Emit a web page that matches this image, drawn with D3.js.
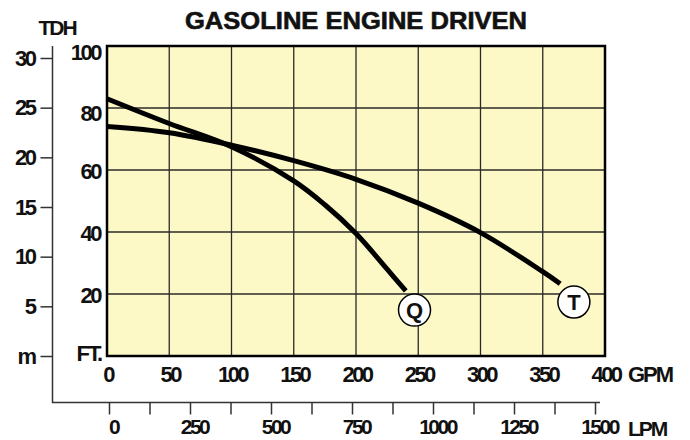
<!DOCTYPE html>
<html>
<head>
<meta charset="utf-8">
<script src="https://cdn.jsdelivr.net/npm/d3@7"></script>
<style>
  body { margin: 0; background: #fff; }
  text { font-family: "Liberation Sans", Arial, sans-serif; font-weight: bold; fill: #111; }
</style>
</head>
<body>
<div id="chart"></div>
<script>
var gpmTicks = [0, 50, 100, 150, 200, 250, 300, 350, 400];
var ftTicks = [20, 40, 60, 80, 100];
var mTicks = [0, 5, 10, 15, 20, 25, 30];
var lpmTicks = [0, 125, 250, 375, 500, 625, 750, 875, 1000, 1125, 1250, 1375, 1500];

// curves: [gpm, ft]
var curveQ = [[0, 83], [50, 75], [100, 67.5], [150, 56.5], [175, 48.8], [200, 39.5], [225, 28], [240, 21]];
var curveT = [[0, 74], [50, 72], [100, 68], [150, 63], [200, 57], [250, 49.3], [300, 39.8], [350, 27.2], [364, 23.3]];
var markers = [{name: "Q", gpm: 247, ft: 14.8}, {name: "T", gpm: 375, ft: 17.4}];

var width = 690,
    height = 440;

var x = d3.scaleLinear().domain([0, 400]).range([107, 605]);
var y = d3.scaleLinear().domain([0, 100]).range([356, 46]);
var yM = d3.scaleLinear().domain([0, 30]).range([356, 58]);
var xL = d3.scaleLinear().domain([0, 1500]).range([109, 595]);

var svg = d3.select("#chart").append("svg")
    .attr("width", width)
    .attr("height", height);

// title
svg.append("text")
    .attr("x", 185).attr("y", 28.5)
    .attr("textLength", 342).attr("lengthAdjust", "spacingAndGlyphs")
    .style("font-size", "23px")
    .style("stroke", "#111").style("stroke-width", 0.6)
    .text("GASOLINE ENGINE DRIVEN");

// plot background
svg.append("rect")
    .attr("x", x(0)).attr("y", y(100))
    .attr("width", x(400) - x(0)).attr("height", y(0) - y(100))
    .attr("fill", "#fdf9c7");

// grid
svg.append("g").selectAll("line")
    .data(gpmTicks.slice(1, -1))
    .enter().append("line")
    .attr("x1", d => x(d)).attr("x2", d => x(d))
    .attr("y1", y(100)).attr("y2", y(0))
    .attr("stroke", "#2a2a2a").attr("stroke-width", 1.3);

svg.append("g").selectAll("line")
    .data(ftTicks.slice(0, -1))
    .enter().append("line")
    .attr("x1", x(0)).attr("x2", x(400))
    .attr("y1", d => y(d)).attr("y2", d => y(d))
    .attr("stroke", "#2a2a2a").attr("stroke-width", 1.3);

svg.append("rect")
    .attr("x", x(0)).attr("y", y(100))
    .attr("width", x(400) - x(0)).attr("height", y(0) - y(100))
    .attr("fill", "none").attr("stroke", "#000").attr("stroke-width", 2.5);

// feet labels
svg.append("g").selectAll("text")
    .data(ftTicks)
    .enter().append("text")
    .attr("x", 100)
    .attr("y", d => y(d) + (d == 100 ? 6 : d == 80 ? 5 : 1))
    .attr("dy", "0.36em")
    .attr("text-anchor", "end")
    .style("font-size", "22px").style("letter-spacing", "-2.5px")
    .text(d => d);

svg.append("text")
    .attr("x", 101).attr("y", 353).attr("dy", "0.36em")
    .attr("text-anchor", "end")
    .style("font-size", "22px").style("letter-spacing", "-2px")
    .text("FT.");

// gpm labels
svg.append("g").selectAll("text")
    .data(gpmTicks)
    .enter().append("text")
    .attr("x", d => x(d) + 1).attr("y", 374).attr("dy", "0.36em")
    .attr("text-anchor", "middle")
    .style("font-size", "22px").style("letter-spacing", "-2.5px")
    .text(d => d);

svg.append("text")
    .attr("x", 628).attr("y", 374).attr("dy", "0.36em")
    .style("font-size", "22px").style("letter-spacing", "-2px")
    .text("GPM");

// metric axis (left) and LPM axis (bottom)
svg.append("path")
    .attr("d", "M52.5,46V402.5H600")
    .attr("fill", "none").attr("stroke", "#333").attr("stroke-width", 1.5);

var axisM = svg.append("g")
    .attr("transform", "translate(52.5,0)")
    .call(d3.axisLeft(yM).tickValues(mTicks).tickSize(12).tickPadding(6)
        .tickFormat(d => d == 0 ? "m" : d));

var axisL = svg.append("g")
    .attr("transform", "translate(0,402.5)")
    .call(d3.axisBottom(xL).tickValues(lpmTicks).tickSize(12).tickPadding(5)
        .tickFormat(d => d % 250 == 0 ? d : ""));

[axisM, axisL].forEach(function(a) {
    a.select(".domain").remove();
    a.selectAll(".tick line").attr("stroke", "#333").attr("stroke-width", 1.5);
    a.selectAll(".tick text")
        .attr("fill", "#111")
        .style("font-family", "'Liberation Sans', Arial, sans-serif")
        .style("font-weight", "bold")
        .style("font-size", "22px").style("letter-spacing", "-2.5px");
});
axisL.selectAll(".tick text").attr("dx", 4).style("font-size", "21px");

svg.append("text")
    .attr("x", 628).attr("y", 428).attr("dy", "0.36em")
    .style("font-size", "21px").style("letter-spacing", "-2px")
    .text("LPM");

svg.append("text")
    .attr("x", 57).attr("y", 27).attr("dy", "0.36em")
    .attr("text-anchor", "middle")
    .style("font-size", "21px").style("letter-spacing", "-2px")
    .text("TDH");

// curves
var line = d3.line()
    .x(d => x(d[0]))
    .y(d => y(d[1]))
    .curve(d3.curveCatmullRom);

svg.append("g").selectAll("path")
    .data([curveQ, curveT])
    .enter().append("path")
    .attr("d", line)
    .attr("fill", "none").attr("stroke", "#000").attr("stroke-width", 5);

var mk = svg.append("g").selectAll("g")
    .data(markers)
    .enter().append("g")
    .attr("transform", d => "translate(" + x(d.gpm) + "," + y(d.ft) + ")");

mk.append("circle")
    .attr("r", 16)
    .attr("fill", "#fff").attr("stroke", "#000").attr("stroke-width", 1.5);

mk.append("text")
    .attr("text-anchor", "middle").attr("dy", "0.36em")
    .style("font-size", "22px")
    .text(d => d.name);
</script>
</body>
</html>
